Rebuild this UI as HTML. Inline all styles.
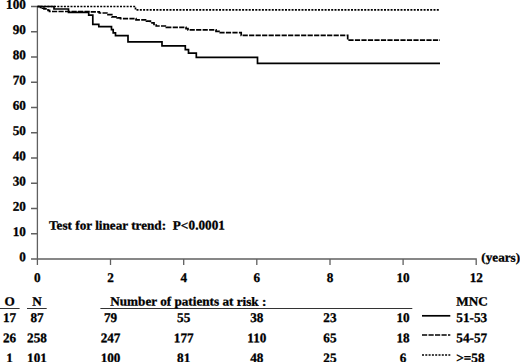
<!DOCTYPE html>
<html><head><meta charset="utf-8"><style>
html,body{margin:0;padding:0;background:#fff;overflow:hidden;}
svg{display:block;}
text{font-family:"Liberation Serif",serif;font-weight:bold;font-size:13.2px;fill:#000;stroke:#000;stroke-width:0.3px;text-rendering:geometricPrecision;}
</style></head><body>
<svg width="520" height="362" viewBox="0 0 520 362">
<g stroke="#606060" stroke-width="1.3" fill="none">
<path d="M37.4 6.5V265"/>
<path d="M31 259H476.2V265"/>
<path d="M31 6.50H37.5M31 31.75H37.5M31 57.00H37.5M31 82.25H37.5M31 107.50H37.5M31 132.75H37.5M31 158.00H37.5M31 183.25H37.5M31 208.50H37.5M31 233.75H37.5"/>
<path d="M110.5 259V265M183.7 259V265M256.8 259V265M330.0 259V265M403.1 259V265"/>
</g>
<g fill="none" stroke="#000" stroke-width="1.7">
<path d="M37.5 6.5H54V9H68.5V12.3H88.7V15.1H92.8V24.3H98.8V26.7H111.5V29.6H113.2V32.8H115.5V35.7H128V41.8H162V45.8H185.3V49.6H188.5V53.1H196.3V57.4H257.5V63.3H440"/>
<path stroke-dasharray="5.2,1.3" d="M37.5 6.5H40.5V7.5H42.5V8.2H44V8.9H48V10.3H49.5V11.5H90V11.8H99.3V13H108V14.7H111.8V16.8H117.2V17.9H120.5V18.6H136V19.8H146.5V21.2H150.4V22.8H154V24.3H156.2V26H166.4V27.3H186V28.6H188V29.9H216V31.3H219V32.6H241.2V35.4H347.7V40.1H440"/>
<path stroke-dasharray="2,1.3" d="M37.5 6.5H135.5V9.8H440"/>
</g>
<g stroke="#333" stroke-width="1.2" fill="none">
<path d="M0 308.5H19.6M27 308.5H46.7M100.4 308.5H412.3"/>
</g>
<g fill="none" stroke="#000" stroke-width="1.7">
<path d="M422 315.8H450.3"/>
<path stroke-dasharray="5.2,1.3" d="M422 335H450.3"/>
<path stroke-dasharray="2,1.3" d="M422 355H450.3"/>
</g>
<text transform="matrix(1 0.001 0 1.0 25.90 8.70)" text-anchor="end">100</text>
<text transform="matrix(1 0.001 0 1.0 25.90 33.95)" text-anchor="end">90</text>
<text transform="matrix(1 0.001 0 1.0 25.90 59.20)" text-anchor="end">80</text>
<text transform="matrix(1 0.001 0 1.0 25.90 84.45)" text-anchor="end">70</text>
<text transform="matrix(1 0.001 0 1.0 25.90 109.70)" text-anchor="end">60</text>
<text transform="matrix(1 0.001 0 1.0 25.90 134.95)" text-anchor="end">50</text>
<text transform="matrix(1 0.001 0 1.0 25.90 160.20)" text-anchor="end">40</text>
<text transform="matrix(1 0.001 0 1.0 25.90 185.45)" text-anchor="end">30</text>
<text transform="matrix(1 0.001 0 1.0 25.90 210.70)" text-anchor="end">20</text>
<text transform="matrix(1 0.001 0 1.0 25.90 235.95)" text-anchor="end">10</text>
<text transform="matrix(1 0.001 0 1.0 25.90 261.20)" text-anchor="end">0</text>
<text transform="matrix(1 0.001 0 1.0 37.40 282.10)" text-anchor="middle">0</text>
<text transform="matrix(1 0.001 0 1.0 110.54 282.10)" text-anchor="middle">2</text>
<text transform="matrix(1 0.001 0 1.0 183.68 282.10)" text-anchor="middle">4</text>
<text transform="matrix(1 0.001 0 1.0 256.82 282.10)" text-anchor="middle">6</text>
<text transform="matrix(1 0.001 0 1.0 329.96 282.10)" text-anchor="middle">8</text>
<text transform="matrix(1 0.001 0 1.0 403.10 282.10)" text-anchor="middle">10</text>
<text transform="matrix(1 0.001 0 1.0 476.24 282.10)" text-anchor="middle">12</text>
<text transform="matrix(1 0.001 0 0.95 481.30 261.60)">(years)</text>
<text transform="matrix(1 0.001 0 0.95 49.00 229.50)">Test for linear trend:  P&lt;</text>
<text transform="matrix(1 0.001 0 1.0 188.60 229.50)">0.0001</text>
<text transform="matrix(1 0.001 0 0.95 9.60 305.50)" text-anchor="middle">O</text>
<text transform="matrix(1 0.001 0 0.95 37.00 305.50)" text-anchor="middle">N</text>
<text transform="matrix(1 0.001 0 1.0 9.60 322.10)" text-anchor="middle">17</text>
<text transform="matrix(1 0.001 0 1.0 37.00 322.10)" text-anchor="middle">87</text>
<text transform="matrix(1 0.001 0 1.0 110.54 322.10)" text-anchor="middle">79</text>
<text transform="matrix(1 0.001 0 1.0 183.68 322.10)" text-anchor="middle">55</text>
<text transform="matrix(1 0.001 0 1.0 256.82 322.10)" text-anchor="middle">38</text>
<text transform="matrix(1 0.001 0 1.0 329.96 322.10)" text-anchor="middle">23</text>
<text transform="matrix(1 0.001 0 1.0 403.10 322.10)" text-anchor="middle">10</text>
<text transform="matrix(1 0.001 0 1.0 9.60 342.20)" text-anchor="middle">26</text>
<text transform="matrix(1 0.001 0 1.0 37.00 342.20)" text-anchor="middle">258</text>
<text transform="matrix(1 0.001 0 1.0 110.54 342.20)" text-anchor="middle">247</text>
<text transform="matrix(1 0.001 0 1.0 183.68 342.20)" text-anchor="middle">177</text>
<text transform="matrix(1 0.001 0 1.0 256.82 342.20)" text-anchor="middle">110</text>
<text transform="matrix(1 0.001 0 1.0 329.96 342.20)" text-anchor="middle">65</text>
<text transform="matrix(1 0.001 0 1.0 403.10 342.20)" text-anchor="middle">18</text>
<text transform="matrix(1 0.001 0 1.0 9.60 362.20)" text-anchor="middle">1</text>
<text transform="matrix(1 0.001 0 1.0 37.00 362.20)" text-anchor="middle">101</text>
<text transform="matrix(1 0.001 0 1.0 110.54 362.20)" text-anchor="middle">100</text>
<text transform="matrix(1 0.001 0 1.0 183.68 362.20)" text-anchor="middle">81</text>
<text transform="matrix(1 0.001 0 1.0 256.82 362.20)" text-anchor="middle">48</text>
<text transform="matrix(1 0.001 0 1.0 329.96 362.20)" text-anchor="middle">25</text>
<text transform="matrix(1 0.001 0 1.0 403.10 362.20)" text-anchor="middle">6</text>
<text transform="matrix(1 0.001 0 0.95 110.20 305.50)">Number of patients at risk :</text>
<text transform="matrix(1 0.001 0 0.95 456.30 305.50)">MNC</text>
<text transform="matrix(1 0.001 0 1.0 456.30 322.10)">51-53</text>
<text transform="matrix(1 0.001 0 1.0 456.30 342.20)">54-57</text>
<text transform="matrix(1 0.001 0 1.0 456.30 362.20)">&gt;=58</text>
</svg>
</body></html>
